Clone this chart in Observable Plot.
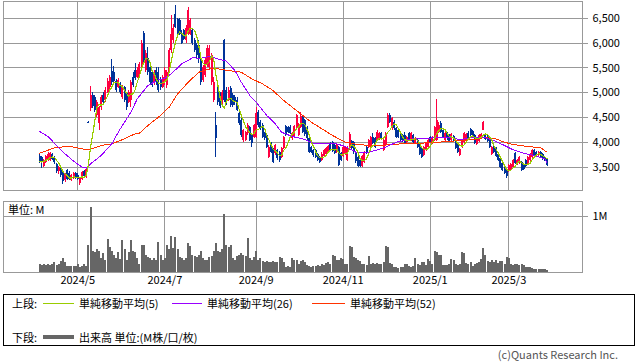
<!DOCTYPE html>
<html>
<head>
<meta charset="utf-8">
<script src="https://cdn.jsdelivr.net/npm/d3@7"></script>
<script src="https://cdn.jsdelivr.net/npm/@observablehq/plot@0.6"></script>
<style>
  body { margin: 0; background: #fff; font-family: "Noto Sans CJK JP", "Noto Sans", sans-serif; }
  #wrap { position: relative; width: 638px; height: 362px; overflow: hidden; background: #fff; }
  #price, #vol { position: absolute; left: 0; }
  #price { top: 0; }
  #vol { top: 192px; }
  .t { position: absolute; font-size: 11px; line-height: 14px; color: #000; white-space: nowrap; }
  .ln { position: absolute; height: 1px; }
  #legend { position: absolute; left: 3px; top: 294px; width: 632px; height: 52px; border: 1px solid #000; box-sizing: border-box; }
</style>
</head>
<body>
<div id="wrap">
  <div id="price"></div>
  <div id="vol"></div>
  <div class="t" style="left:8px;top:202px;">単位: M</div>
  <div id="legend"></div>
  <div class="t" style="left:12px;top:296px;">上段:</div>
  <div class="ln" style="left:43px;top:303px;width:31px;background:#99cc00;"></div>
  <div class="t" style="left:79px;top:296px;">単純移動平均(5)</div>
  <div class="ln" style="left:172px;top:303px;width:30px;background:#9900ff;"></div>
  <div class="t" style="left:207px;top:296px;">単純移動平均(26)</div>
  <div class="ln" style="left:312px;top:303px;width:33px;background:#ff3300;"></div>
  <div class="t" style="left:350px;top:296px;">単純移動平均(52)</div>
  <div class="t" style="left:12px;top:330px;">下段:</div>
  <div class="ln" style="left:43px;top:335px;width:31px;height:4px;background:#666;"></div>
  <div class="t" style="left:79px;top:330px;">出来高 単位:(M株/口/枚)</div>
  <div class="t" style="right:20px;top:348px;line-height:12px;color:#555;">(c)Quants Research Inc.</div>
</div>
<script>
// ---- data (daily, trading-day index) ----
const open = [
3730,3700,3520,3600,3650,3640,3760,3700,3560,3420, 3470,3380,3230,3440,3380,3240,3270,3370,3340,3170,
3260,3420,3290,4410,4680,4950,4900,4550,4380,4700, 4950,4850,5000,5100,5430,5400,5230,5100,5160,4900,
5100,4980,4800,4850,5300,5450,5300,
5300,5500,6200,5450,5700,5500,5400,5200,5450,5400, 5250,5100,5200,5150,5400,5850,6050,6580,6480,6450,
6200,6250,6050,6180,6180,6250,6050,5950,5950,5650, 5250,5350,5550,5500,5200,4850,4340,5150,4950,4750,
6050,5050,4850,5080,4950,4900,4850,4580,4450,
4040,4050,4180,4310,4140,4110,4110,4610,4410,4340, 4180,4140,3710,3980,3870,3780,3840,3810,3700,3880,
4320,4300,4310,4080,4120,4280,4150,4310,4510,4440, 4310,4080,3900,3840,3840,3770,3700,3650,3720,3760,
3800,3980,4000,3940,3800,3910,3780,3720,3770,
3650,3880,4020,4000,3780,3700,3640,3530,3600,3900, 3910,3910,4110,4080,4040,4060,4180,3850,3950,4300,
4540,4280,4410,4280,4240,4180,4150,4140,4010,4180, 4040,4140,3980,4040,3980,3880,3740,3840,3910,4100,
3980,4050,4050,4200,4380,4250,4050,4180,4150,
4040,4120,4050,3950,3740,3900,4010,4040,4180,4270, 4230,4140,3960,4020,4080,4250,4170,4140,4040,3770,
3910,3880,3760,3680,3580,3500,3450,3410,3440,3500, 3780,3560,3580,3600,3560,3640,3580,3640,3700,3840,
3810,3740,3800,3770,3700,3660
];
const high = [
3760,3720,3660,3740,3800,3800,3780,3720,3580,3530, 3500,3400,3380,3460,3420,3360,3390,3390,3370,3290,
3420,3440,3490,4420,5120,5000,4950,4850,4720,4950, 5000,5100,5280,5350,5680,5520,5260,5280,5200,5150,
5130,5000,5050,5250,5400,5600,5500,
5620,6050,6240,5850,5920,5550,5450,5450,5500,5500, 5300,5350,5500,5450,5900,6550,6380,6750,6500,6500,
6250,6280,6350,6720,6500,6300,6100,6000,6050,5700, 5550,5700,5950,5950,5800,5300,4610,5200,5000,5050,
6080,5100,5100,5120,4980,4950,4900,4620,4480,
4270,4230,4380,4330,4160,4360,4710,4640,4450,4380, 4200,4160,3940,4000,3890,3960,3860,3830,3900,4130,
4340,4330,4350,4210,4340,4570,4380,4600,4540,4460, 4330,4110,3930,3860,3860,3790,3720,3800,3860,3900,
3950,4000,4030,3960,3960,3930,3800,3930,3920,
3930,4200,4050,4020,3800,3720,3660,3750,3820,3920, 4060,4130,4180,4100,4240,4210,4200,4060,4200,4580,
4580,4510,4440,4310,4260,4210,4170,4200,4120,4200, 4200,4160,4100,4060,4000,3900,3930,4000,4060,4120,
4120,4320,4860,4400,4420,4270,4200,4200,4170,
4190,4140,4070,3970,3890,4060,4200,4190,4220,4290, 4250,4160,4100,4170,4190,4420,4190,4160,4060,3920,
3930,3900,3780,3700,3600,3520,3470,3560,3590,3660, 3800,3660,3720,3620,3580,3660,3720,3780,3860,3860,
3830,3830,3820,3790,3720,3680
];
const low = [
3590,3480,3500,3580,3620,3620,3640,3560,3380,3360, 3290,3160,3200,3230,3230,3220,3250,3260,3230,3130,
3240,3290,3270,4380,4620,4680,4600,4500,4240,4650, 4750,4800,4980,5050,5150,5200,5000,5080,4970,4870,
4800,4640,4780,4700,5100,5250,5280,
5280,5450,5600,5400,5350,5150,5100,5150,5150,5000, 5050,5080,5150,5080,5380,5800,6000,6300,6100,6150,
5980,6050,6000,6150,6150,5950,5820,5700,5600,5150, 5200,5300,5500,5450,5150,4800,3700,4750,4680,4700,
4800,4750,4820,4700,4700,4750,4620,4350,4100,
4000,4020,4150,4020,3910,4090,4090,4300,4250,4080, 4050,3880,3680,3780,3580,3750,3650,3600,3680,3860,
4120,4180,4170,4050,4100,4250,4120,4280,4180,4130, 4050,3780,3780,3710,3680,3620,3590,3630,3700,3740,
3780,3820,3800,3760,3780,3520,3620,3700,3750,
3620,3850,3850,3770,3580,3500,3500,3510,3580,3760, 3890,3890,3960,3890,4020,4040,4060,3830,3920,4280,
4380,4250,4250,4080,4080,4020,4000,3960,3990,4020, 4020,3990,3960,3890,3740,3690,3720,3820,3890,3980,
3960,4030,4030,4180,4180,4090,4030,4050,4000,
4020,4000,3860,3790,3720,3880,3990,4020,4060,4130, 4080,3970,3940,4000,4060,4240,4040,4000,3880,3740,
3780,3700,3620,3490,3420,3360,3270,3390,3420,3480, 3560,3540,3560,3420,3440,3510,3560,3620,3680,3720,
3720,3720,3690,3650,3620,3520
];
const close = [
3620,3600,3640,3720,3760,3780,3660,3600,3420,3500, 3330,3220,3360,3260,3260,3340,3370,3280,3250,3270,
3400,3310,3470,4390,4950,4720,4650,4800,4700,4900, 4800,5050,5230,5300,5200,5230,5050,5250,5000,5120,
4850,4700,5000,5200,5150,5280,5450,
5580,6000,5650,5800,5400,5200,5150,5400,5200,5050, 5100,5300,5450,5400,5850,6180,6300,6320,6150,6180,
6000,6080,6300,6650,6450,6000,5850,5750,5680,5200, 5500,5650,5900,5900,5750,5200,4075,4800,4720,5000,
4850,4800,5050,4750,4750,4800,4650,4380,4150,
4240,4200,4340,4050,3980,4340,4580,4340,4280,4110, 4080,3910,3910,3810,3610,3940,3680,3640,3880,4100,
4150,4200,4190,4190,4320,4540,4350,4520,4210,4170, 4080,3800,3800,3740,3700,3640,3610,3770,3840,3880,
3920,3850,3830,3780,3940,3550,3640,3910,3900,
3900,4170,3880,3800,3620,3530,3520,3730,3800,3780, 4040,4110,3980,3910,4210,4190,4080,4040,4180,4540,
4410,4480,4280,4110,4110,4050,4020,3980,4100,4040, 4180,4010,4080,3910,3760,3710,3910,3980,4040,4000,
4100,4300,4450,4340,4200,4110,4180,4080,4030,
4170,4020,3880,3810,3870,4040,4180,4170,4080,4150, 4100,3990,4080,4150,4170,4400,4060,4020,3900,3900,
3800,3720,3640,3510,3440,3380,3310,3540,3570,3640, 3580,3640,3700,3440,3460,3530,3700,3760,3840,3740,
3740,3810,3710,3670,3640,3540
];
// volume, millions of shares
const volume = [
0.15,0.12,0.14,0.13,0.15,0.12,0.15,0.17,0.13,0.15, 0.20,0.24,0.18,0.10,0.10,0.10,0.11,0.10,0.14,0.08,
0.10,0.15,0.10,0.48,1.16,0.38,0.36,0.40,0.37,0.25, 0.33,0.22,0.59,0.45,0.38,0.30,0.25,0.35,0.23,0.56,
0.40,0.22,0.36,0.56,0.38,0.36,0.25,
0.15,0.48,0.48,0.30,0.26,0.24,0.22,0.24,0.22,0.53, 0.30,0.22,0.24,0.48,0.40,0.64,0.42,0.62,0.40,0.26,
0.24,0.22,0.24,0.51,0.46,0.30,0.28,0.26,0.30,0.38, 0.24,0.22,0.22,0.26,0.28,0.38,0.51,0.38,0.36,0.40,
1.03,0.48,0.44,0.48,0.24,0.22,0.28,0.30,0.33,
0.30,0.28,0.60,0.24,0.22,0.26,0.38,0.22,0.24,0.20, 0.18,0.19,0.17,0.18,0.19,0.18,0.17,0.26,0.25,0.18,
0.09,0.10,0.09,0.25,0.22,0.21,0.14,0.20,0.21,0.18, 0.12,0.10,0.09,0.11,0.10,0.12,0.10,0.14,0.12,0.16,
0.18,0.15,0.31,0.28,0.22,0.21,0.24,0.23,0.14,
0.15,0.47,0.45,0.27,0.25,0.22,0.20,0.14,0.15,0.13, 0.29,0.15,0.16,0.14,0.16,0.15,0.14,0.17,0.47,0.45,
0.16,0.15,0.08,0.08,0.07,0.08,0.09,0.15,0.14,0.10, 0.09,0.10,0.24,0.14,0.13,0.18,0.17,0.13,0.23,0.20,
0.14,0.38,0.36,0.31,0.30,0.13,0.12,0.13,0.14,
0.23,0.21,0.14,0.13,0.15,0.35,0.33,0.16,0.15,0.17, 0.10,0.15,0.16,0.18,0.23,0.42,0.30,0.20,0.17,0.22,
0.18,0.21,0.16,0.20,0.19,0.14,0.26,0.24,0.15,0.13, 0.14,0.15,0.13,0.14,0.12,0.08,0.09,0.08,0.07,0.06,
0.06,0.05,0.06,0.05,0.06,0.04
];
// moving averages (day index, price)
const ma26Day = [0,4,8,12,16,20,22,24,29,34,38,43,46,51,56,59,62,67,72,76,80,84,88,92,95,99,102,107,111,114,119,124,129,133,140,144,149,154,159,163,168,176,182,187,194,198,203,209,214,219,223,228,233,238,239];
const ma26Val = [4223,4123,3942,3775,3627,3507,3487,3574,3741,3976,4277,4611,4880,5147,5261,5294,5382,5583,5703,5696,5730,5683,5636,5449,5214,4946,4812,4545,4378,4209,4123,4076,3988,3988,3976,3922,3808,3795,3855,3908,4008,4076,4076,4109,4109,4056,4096,4109,4042,3942,3855,3788,3741,3674,3587];
const ma52Day = [0,7,14,20,23,29,34,38,45,47,51,56,61,65,70,75,80,84,89,95,100,105,110,114,119,124,128,133,138,144,151,160,170,179,188,194,203,209,214,219,223,230,236,239];
const ma52Val = [3787,3895,3928,3875,3855,3942,3976,4042,4176,4189,4344,4511,4711,4980,5214,5415,5483,5483,5449,5415,5281,5181,5047,4880,4711,4545,4410,4277,4143,4008,3955,3942,3975,3988,4008,4029,4056,4096,4089,4008,3962,3922,3895,3808];
// month ticks (day index of first trading day of the month)
const monthDay = [18, 59, 102, 143, 184, 221];
const monthLabel = ["2024/5", "2024/7", "2024/9", "2024/11", "2025/1", "2025/3"];
const priceTicks = [3500, 4000, 4500, 5000, 5500, 6000, 6500];
const volTicks = [1];

// ---- build ----
const RED = "#ff0040", BLUE = "#003399", GRID = "#999999";
const candles = close.map((c, i) => ({i, o: open[i], h: high[i], l: low[i], c}));
const vols = volume.map((v, i) => ({i, v}));
const ma26 = ma26Day.map((d, k) => ({i: d, v: ma26Val[k]}));
const ma52 = ma52Day.map((d, k) => ({i: d, v: ma52Val[k]}));
const labelOf = new Map(monthDay.map((d, k) => [d, monthLabel[k]]));
const xDom = [-17, 255.7];
const tickExt = 2.8;
const style = {fontFamily: '"Noto Sans CJK JP", "Noto Sans", sans-serif', fontSize: "11px", background: "transparent", overflow: "visible", shapeRendering: "crispEdges"};
const up = d => d.c >= d.o, down = d => d.c < d.o;

const price = Plot.plot({
  width: 638, height: 192, marginLeft: 3, marginRight: 56, marginTop: 1, marginBottom: 2,
  x: {domain: xDom, axis: null},
  y: {domain: [3038, 6836], axis: null},
  style,
  marks: [
    Plot.ruleY(priceTicks, {x1: xDom[0], x2: xDom[1] + tickExt, stroke: GRID}),
    Plot.ruleX(monthDay, {stroke: GRID}),
    Plot.frame({stroke: GRID}),
    Plot.axisY({anchor: "right", ticks: priceTicks, tickSize: 0, tickPadding: 10, tickFormat: d3.format(","), fill: "#000", label: null}),
    Plot.ruleX(candles, {filter: up, x: "i", y1: "l", y2: "h", stroke: RED, strokeWidth: 1}),
    Plot.ruleX(candles, {filter: down, x: "i", y1: "l", y2: "h", stroke: BLUE, strokeWidth: 1}),
    Plot.ruleX(candles, {filter: up, x: "i", y1: "o", y2: "c", stroke: RED, strokeWidth: 2}),
    Plot.ruleX(candles, {filter: down, x: "i", y1: "o", y2: "c", stroke: BLUE, strokeWidth: 2}),
    Plot.line(ma52, {x: "i", y: "v", stroke: "#ff3300", strokeWidth: 1}),
    Plot.line(ma26, {x: "i", y: "v", stroke: "#9900ff", strokeWidth: 1}),
    Plot.lineY(candles, Plot.windowY({k: 5, anchor: "end", reduce: "mean"}, {x: "i", y: "c", stroke: "#99cc00", strokeWidth: 1.2}))
  ]
});
document.getElementById("price").appendChild(price);

const vol = Plot.plot({
  width: 638, height: 104, marginLeft: 3, marginRight: 56, marginTop: 9, marginBottom: 24,
  x: {domain: xDom, axis: null},
  y: {domain: [0, 1.26], axis: null},
  style,
  marks: [
    Plot.ruleY(volTicks, {x1: xDom[0], x2: xDom[1] + tickExt, stroke: GRID}),
    Plot.ruleX(monthDay, {stroke: GRID}),
    Plot.ruleX(vols, {x: "i", y1: 0, y2: "v", stroke: "#666666", strokeWidth: 2}),
    Plot.frame({stroke: GRID}),
    Plot.axisY({anchor: "right", ticks: volTicks, tickSize: 0, tickPadding: 10, tickFormat: d => d + "M", fill: "#000", label: null}),
    Plot.axisX({ticks: monthDay, tickSize: 0, tickPadding: 4, tickFormat: d => labelOf.get(d), fill: "#000", label: null})
  ]
});
document.getElementById("vol").appendChild(vol);
</script>
</body>
</html>
